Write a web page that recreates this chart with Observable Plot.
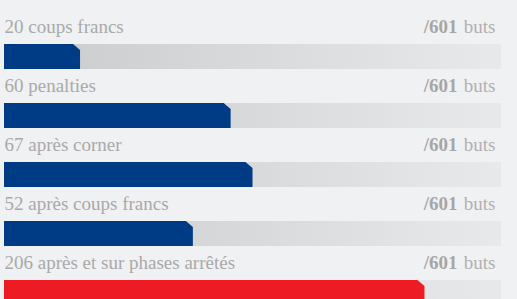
<!DOCTYPE html>
<html><head><meta charset="utf-8">
<script src="https://cdn.jsdelivr.net/npm/d3@7"></script>
<script src="https://cdn.jsdelivr.net/npm/@observablehq/plot@0.6"></script>
<style>html,body{margin:0;padding:0;background:#f0f1f3;overflow:hidden}</style>
</head><body><div id="chart"></div>
<script>
const categories = ["coups francs", "penalties", "après corner", "après coups francs", "après et sur phases arrêtés"];
const counts = [20, 60, 67, 52, 206];
const barShare = [15.3, 45.6, 50.0, 38.0, 84.6]; // bar length, % of track
const totalLabel = "/601";
const unitLabel = "buts";
const barColors = ["#003c86", "#003c86", "#003c86", "#003c86", "#ed1c24"];

const trackH = 25 / 59;
const rows = categories.map((c, i) => ({
  key: i,
  label: `${counts[i]} ${c}`,
  share: barShare[i],
  color: barColors[i]
}));

function chamferBars(index, scales) {
  const g = d3.create("svg:g");
  rows.forEach(r => {
    const x0 = scales.x(0), x1 = scales.x(r.share);
    const y0 = scales.y(r.key), y1 = scales.y(r.key + trackH);
    const c = 7, cv = 6;
    g.append("path")
      .attr("d", `M${x0},${y0}H${x1 - c}L${x1},${y0 + cv}V${y1}H${x0}Z`)
      .attr("fill", r.color);
  });
  return g.node();
}

const fontSize = 19;
const svg = Plot.plot({
  width: 517,
  height: 299,
  marginTop: 0, marginRight: 0, marginBottom: 0, marginLeft: 0,
  style: {background: "#f0f1f3", fontFamily: "'Liberation Serif', 'DejaVu Serif', serif", overflow: "hidden"},
  x: {domain: [0, 100], range: [4, 501], axis: null},
  y: {domain: [0, 5], range: [44, 339], axis: null},
  marks: [
    Plot.rect(rows, {x1: 0, x2: 100, y1: "key", y2: d => d.key + trackH, fill: "url(#trackGrad)"}),
    chamferBars,
    Plot.text(rows, {x: 0, y: "key", text: "label", textAnchor: "start", lineAnchor: "bottom", dy: -12, fill: "#a9a9a9", fontSize}),
    Plot.text(rows, {x: 100, y: "key", text: () => unitLabel, textAnchor: "end", lineAnchor: "bottom", dy: -12, dx: -6, fill: "#b0b0b0", fontSize}),
    Plot.text(rows, {x: 100, y: "key", text: () => totalLabel, textAnchor: "end", lineAnchor: "bottom", dy: -12, dx: -44, fill: "#a6a6a6", fontWeight: "bold", fontSize})
  ]
});

const defs = d3.select(svg).insert("defs", ":first-child");
const grad = defs.append("linearGradient").attr("id", "trackGrad").attr("x1", "0%").attr("x2", "100%").attr("y1", "0%").attr("y2", "0%");
grad.append("stop").attr("offset", "0%").attr("stop-color", "#c9cacc");
grad.append("stop").attr("offset", "100%").attr("stop-color", "#e8e9eb");

document.getElementById("chart").appendChild(svg);
</script>
</body></html>
